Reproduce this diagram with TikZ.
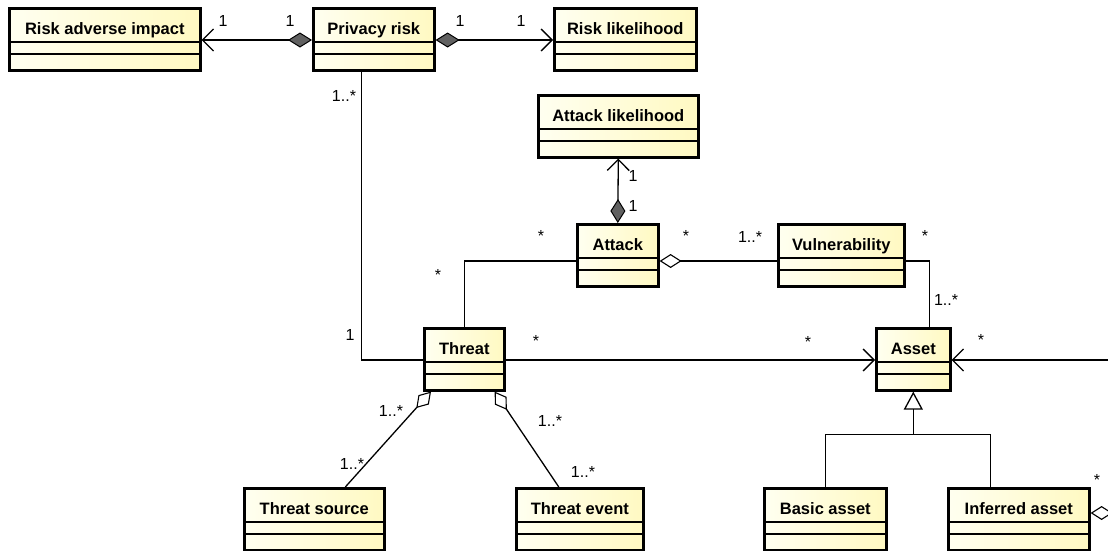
\documentclass[tikz,border=0pt]{standalone}
\usepackage{fontspec}
\setmainfont{Liberation Sans}
\usetikzlibrary{arrows.meta}

\definecolor{classleft}{rgb}{1.000000, 1.000000, 0.941176}
\definecolor{classright}{rgb}{1.000000, 0.976471, 0.760784}
\definecolor{compofill}{rgb}{0.380000, 0.380000, 0.380000}

\tikzset{
  umlclass/.style={draw=black, line width=2.6pt, anchor=north west,
    left color=classleft, right color=classright,
    inner xsep=0pt, inner ysep=0pt, text height=26pt, text depth=36pt,
    minimum height=62pt, font=\bfseries\fontsize{16.5}{16.5}\selectfont},
  classsep/.style={line width=1.4pt},
  mult/.style={font=\fontsize{16}{16}\selectfont, inner sep=0pt},
  conn/.style={line width=1.3pt},
  assoc/.style={conn, -{Straight Barb[length=11pt,width=22pt,line width=1.3pt]}},
  compo/.style={conn, {Diamond[length=24pt,width=15pt,fill=compofill,line width=1pt]}-{Straight Barb[length=11pt,width=22pt,line width=1.3pt]}},
  aggr/.style={conn, {Diamond[open,length=22pt,width=14pt,line width=1.1pt]}-},
  gener/.style={conn, -{Triangle[open,length=18pt,width=19pt,line width=1.3pt]}}
}

\begin{document}
\begin{tikzpicture}[x=1pt,y=-1pt]
  \useasboundingbox (0,0) rectangle (1108,550);

  % classes
  \node[umlclass, minimum width=191pt] (rai) at (8,7) {Risk adverse impact};
  \node[umlclass, minimum width=121pt] (prisk) at (312,7) {Privacy risk};
  \node[umlclass, minimum width=142pt] (rlike) at (553,7) {Risk likelihood};
  \node[umlclass, minimum width=160pt] (alike) at (537,94) {Attack likelihood};
  \node[umlclass, minimum width=81pt] (attack) at (576,223) {Attack};
  \node[umlclass, minimum width=126pt] (vuln) at (777,223) {Vulnerability};
  \node[umlclass, minimum width=80pt] (threat) at (423,327) {Threat};
  \node[umlclass, minimum width=74pt] (asset) at (875,327) {Asset};
  \node[umlclass, minimum width=140pt] (tsource) at (243,487) {Threat source};
  \node[umlclass, minimum width=127pt] (tevent) at (515,487) {Threat event};
  \node[umlclass, minimum width=122pt] (basic) at (763,487) {Basic asset};
  \node[umlclass, minimum width=141pt] (infasset) at (947,487) {Inferred asset};

  % attribute and operation compartments
  \foreach \c in {rai,prisk,rlike,alike,attack,vuln,threat,asset,tsource,tevent,basic,infasset}
  {
    \draw[classsep] ([yshift=-35pt]\c.north west) -- ([yshift=-35pt]\c.north east);
    \draw[classsep] ([yshift=-47pt]\c.north west) -- ([yshift=-47pt]\c.north east);
  }

  % associations
  \draw[compo] ([yshift=-33pt]prisk.north west) -- ([yshift=-33pt]rai.north east);
  \draw[compo] ([yshift=-33pt]prisk.north east) -- ([yshift=-33pt]rlike.north west);
  \draw[conn] ([xshift=-12pt]prisk.south) |- ([yshift=-33pt]threat.north west);
  \draw[compo] (attack.north) -- (alike.south);
  \draw[conn] ([yshift=-38pt]attack.north west) -| (threat.north);
  \draw[aggr] ([yshift=-38pt]attack.north east) -- ([yshift=-38pt]vuln.north west);
  \draw[conn] ([yshift=-38pt]vuln.north east) -| ([xshift=16pt]asset.north);
  \draw[assoc] ([yshift=-33pt]threat.north east) -- ([yshift=-33pt]asset.north west);
  \coordinate (farright) at (1108,360);
  \draw[assoc] (farright) -- ([yshift=-33pt]asset.north east);
  \draw[aggr] ([xshift=8pt]threat.south west) -- ([xshift=31pt]tsource.north);
  \draw[aggr] ([xshift=-11pt]threat.south east) -- ([xshift=-21pt]tevent.north);
  \coordinate (farright2) at (1108,513);
  \draw[aggr] ([yshift=-26pt]infasset.north east) -- (farright2);

  % generalization
  \coordinate (genjoin) at ([yshift=-43pt]asset.south);
  \draw[conn] (basic.north) |- (genjoin);
  \draw[conn] ([xshift=-28pt]infasset.north) |- (genjoin);
  \draw[gener] (genjoin) -- (asset.south);

  % multiplicities
  \node[mult] (m1) at (223,21) {1};
  \node[mult] (m2) at (290,21) {1};
  \node[mult] (m3) at (460,21) {1};
  \node[mult] (m4) at (521,21) {1};
  \node[mult] (m5) at (344,96) {1..*};
  \node[mult] (m6) at (633,176) {1};
  \node[mult] (m7) at (633,206) {1};
  \node[mult] (m8) at (541,236) {*};
  \node[mult] (m9) at (438,275) {*};
  \node[mult] (m10) at (686,236) {*};
  \node[mult] (m11) at (750,237) {1..*};
  \node[mult] (m12) at (925,236) {*};
  \node[mult] (m13) at (946,300) {1..*};
  \node[mult] (m14) at (350,335) {1};
  \node[mult] (m15) at (536,341) {*};
  \node[mult] (m16) at (808,342) {*};
  \node[mult] (m17) at (981,340) {*};
  \node[mult] (m18) at (391,411) {1..*};
  \node[mult] (m19) at (352,464) {1..*};
  \node[mult] (m20) at (550,421) {1..*};
  \node[mult] (m21) at (583,472) {1..*};
  \node[mult] (m22) at (1097,480) {*};
\end{tikzpicture}
\end{document}
